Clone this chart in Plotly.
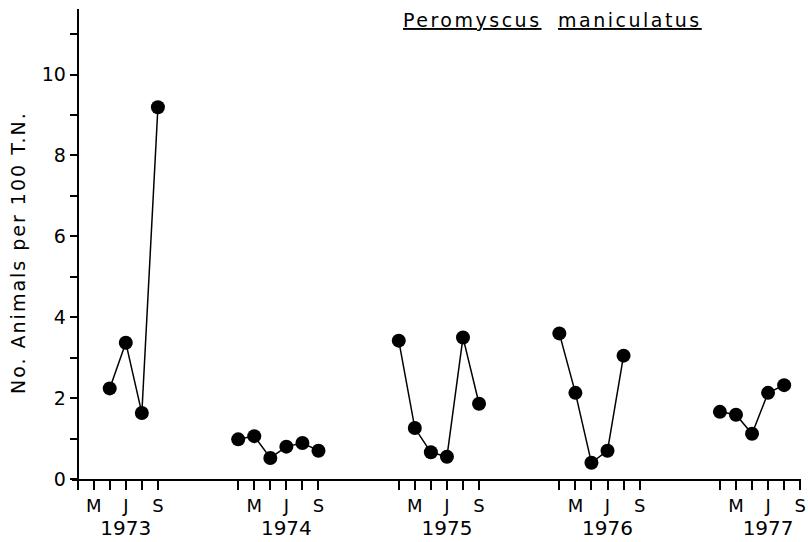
import plotly.graph_objects as go

# ---- data ----
years = [1973, 1974, 1975, 1976, 1977]
month_names = ["Apr", "May", "Jun", "Jul", "Aug", "Sep"]
month_labels = ["", "M", "", "J", "", "S"]

months_1973 = ["Jun", "Jul", "Aug", "Sep"]
values_1973 = [2.24, 3.37, 1.63, 9.19]
months_1974 = ["Apr", "May", "Jun", "Jul", "Aug", "Sep"]
values_1974 = [0.98, 1.06, 0.52, 0.80, 0.89, 0.70]
months_1975 = ["Apr", "May", "Jun", "Jul", "Aug", "Sep"]
values_1975 = [3.42, 1.26, 0.66, 0.55, 3.50, 1.86]
months_1976 = ["Apr", "May", "Jun", "Jul", "Aug"]
values_1976 = [3.60, 2.13, 0.40, 0.70, 3.05]
months_1977 = ["Apr", "May", "Jun", "Jul", "Aug"]
values_1977 = [1.66, 1.59, 1.12, 2.13, 2.32]

y_tick_values = list(range(0, 12))
y_tick_labels = [str(v) if v % 2 == 0 and v <= 10 else "" for v in y_tick_values]

title_words = ["Peromyscus", "maniculatus"]
y_title = "No. Animals per 100 T.N."

YEAR_SPAN = 10  # axis units per year block


def xpos(year, month):
    return (year - 1973) * YEAR_SPAN + month_names.index(month)


series = [
    (1973, months_1973, values_1973),
    (1974, months_1974, values_1974),
    (1975, months_1975, values_1975),
    (1976, months_1976, values_1976),
    (1977, months_1977, values_1977),
]

FONT = "DejaVu Sans"

W, H = 808, 542
ML, MR, MT, MB = 72, 7, 9, 63
PW, PH = W - ML - MR, H - MT - MB


def px(xr):  # reference pixel x -> paper
    return (xr - ML) / PW


def py(yr):  # reference pixel y -> paper
    return (H - MB - yr) / PH


fig = go.Figure()
for yr, ms, vs in series:
    fig.add_trace(go.Scatter(
        x=[xpos(yr, m) for m in ms], y=vs,
        mode="lines+markers",
        line=dict(color="black", width=1.5),
        marker=dict(color="black", size=14),
        showlegend=False, cliponaxis=False,
    ))

# x ticks
tickvals, ticktext = [], []
for yr in years:
    for m, lab in zip(month_names, month_labels):
        tickvals.append(xpos(yr, m))
        if m == "Jul":
            ticktext.append(f"{lab}<br><span style='font-size:20px'>{yr}</span>")
        else:
            ticktext.append(lab)

xmin, xmax = -0.35, 45.05
fig.update_layout(
    width=W, height=H,
    margin=dict(l=ML, r=MR, t=MT, b=MB),
    paper_bgcolor="white", plot_bgcolor="white",
    font=dict(family=FONT, color="black", size=18),
    hovermode=False,
    xaxis=dict(
        range=[xmin, xmax], showgrid=False, zeroline=False,
        showline=True, linecolor="black", linewidth=2,
        tickmode="array", tickvals=tickvals, ticktext=ticktext, tickangle=0,
        ticks="outside", ticklen=9, tickwidth=2, tickcolor="black",
        tickfont=dict(size=18, family=FONT), automargin=False,
    ),
    yaxis=dict(
        range=[0, 11.62], showgrid=False, zeroline=False,
        anchor="free", position=(0 - xmin) / (xmax - xmin),
        showline=True, linecolor="black", linewidth=2,
        tickmode="array", tickvals=y_tick_values, ticktext=y_tick_labels,
        ticks="outside", ticklen=7, tickwidth=2, tickcolor="black",
        tickfont=dict(size=19, family=FONT), automargin=False,
    ),
    annotations=[
        dict(text=f"<span style='letter-spacing:2px'>{y_title}</span>", textangle=-90,
             xref="paper", yref="paper",
             x=px(18), y=py(253), xanchor="center", yanchor="middle",
             showarrow=False, font=dict(size=19, family=FONT)),
        dict(text=f"<span style='letter-spacing:2.5px'>{title_words[0]}</span>", xref="paper", yref="paper",
             x=px(472), y=py(20), xanchor="center", yanchor="middle",
             showarrow=False, font=dict(size=19, family=FONT, lineposition="under")),
        dict(text=f"<span style='letter-spacing:2.5px'>{title_words[1]}</span>", xref="paper", yref="paper",
             x=px(630), y=py(20), xanchor="center", yanchor="middle",
             showarrow=False, font=dict(size=19, family=FONT, lineposition="under")),
    ],
)

fig.write_html(
    "out.html",
    config={"displayModeBar": False, "staticPlot": True},
    post_script="document.body.style.margin='0px';document.body.style.overflow='hidden';",
)
